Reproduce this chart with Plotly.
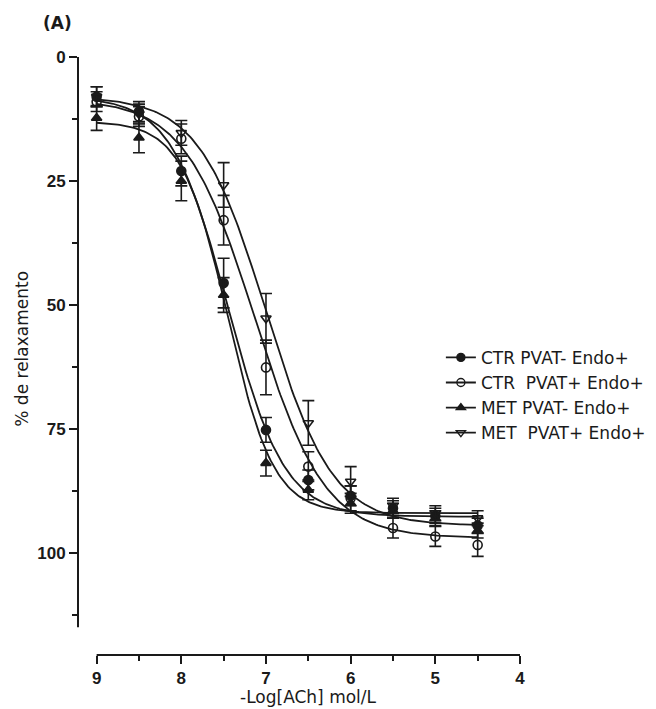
import numpy as np
import plotly.graph_objects as go

# ---- data ----
log_ach = [9, 8.5, 8, 7.5, 7, 6.5, 6, 5.5, 5, 4.5]

series_names = ["CTR PVAT- Endo+", "CTR  PVAT+ Endo+", "MET PVAT- Endo+", "MET  PVAT+ Endo+"]

ctr_pvat_minus = [8.0, 11.0, 23.0, 45.6, 75.2, 85.3, 88.5, 91.0, 92.5, 94.5]
ctr_pvat_minus_err = [2.0, 2.0, 3.0, 5.0, 2.5, 2.0, 2.0, 1.5, 1.5, 1.5]

ctr_pvat_plus = [9.0, 12.0, 16.5, 32.9, 62.6, 82.6, 89.0, 95.0, 96.7, 98.4]
ctr_pvat_plus_err = [2.0, 2.0, 3.0, 5.0, 5.5, 3.0, 2.5, 2.0, 2.0, 2.3]

met_pvat_minus = [12.3, 16.3, 25.0, 48.0, 81.9, 87.3, 90.0, 91.5, 93.0, 95.5]
met_pvat_minus_err = [2.5, 3.0, 4.0, 3.5, 2.6, 2.0, 2.0, 1.5, 1.5, 1.5]

met_pvat_plus = [8.0, 11.5, 15.3, 25.8, 52.7, 73.8, 85.6, 90.5, 92.0, 93.0]
met_pvat_plus_err = [2.0, 2.0, 2.5, 4.5, 5.0, 4.5, 3.0, 1.5, 1.5, 1.5]

# fitted sigmoid parameters (top, bottom, pEC50, hill)
fit_top = [8.0, 8.5, 13.0, 8.0]
fit_bottom = [92.7, 97.0, 92.0, 94.5]
fit_pec50 = [7.45, 7.13, 7.45, 7.0]
fit_hill = [1.3, 1.05, 1.6, 1.1]

x_ticks = [9, 8, 7, 6, 5, 4]
y_ticks = [0, 25, 50, 75, 100]

values = [ctr_pvat_minus, ctr_pvat_plus, met_pvat_minus, met_pvat_plus]
errors = [ctr_pvat_minus_err, ctr_pvat_plus_err, met_pvat_minus_err, met_pvat_plus_err]

symbols = ["circle", "circle-open", "triangle-up", "triangle-down-open"]
black = "#1a1a1a"
TXT = "DejaVu Sans, Liberation Sans, Arial, sans-serif"
NUM = "Liberation Sans, Arial, sans-serif"

fig = go.Figure()

p_grid = np.linspace(max(log_ach), min(log_ach), 200)
for i in range(4):
    curve = fit_top[i] + (fit_bottom[i] - fit_top[i]) / (1 + 10 ** ((p_grid - fit_pec50[i]) * fit_hill[i]))
    fig.add_trace(go.Scatter(x=p_grid, y=curve, mode="lines",
                             line=dict(color=black, width=1.8),
                             showlegend=False, hoverinfo="skip"))

for i in range(4):
    fig.add_trace(go.Scatter(
        x=log_ach, y=values[i], mode="markers",
        marker=dict(symbol=symbols[i], size=9, color=black,
                    line=dict(color=black, width=1.6)),
        error_y=dict(type="data", array=errors[i], color=black, thickness=1.6, width=6),
        showlegend=False))

for i in range(4):
    fig.add_trace(go.Scatter(
        x=[None], y=[None], mode="lines+markers", name=series_names[i],
        marker=dict(symbol=symbols[i], size=8, color=black,
                    line=dict(color=black, width=1.4)),
        line=dict(color=black, width=1.8)))

# the page body adds an 8px margin, so the figure is 8px smaller and margins shifted
fig.update_layout(
    width=648, height=701,
    margin=dict(l=70, r=136, t=49, b=54, autoexpand=False),
    paper_bgcolor="white", plot_bgcolor="white",
    font=dict(family=TXT, color=black),
    xaxis=dict(range=[9.22, 4], tickvals=x_ticks, ticks="outside", ticklen=8,
               tickwidth=2, tickcolor=black, showline=False, showgrid=False,
               zeroline=False, automargin=False,
               tickfont=dict(family=NUM, size=17, weight="bold"),
               minor=dict(dtick=0.5, tick0=0, ticks="outside", ticklen=5,
                          tickwidth=2, tickcolor=black, showgrid=False)),
    yaxis=dict(range=[120.6, 0], tickvals=y_ticks, ticks="outside", ticklen=8,
               tickwidth=2, tickcolor=black, showline=False, showgrid=False,
               zeroline=False, automargin=False,
               tickfont=dict(family=NUM, size=17, weight="bold"),
               minor=dict(dtick=12.5, tick0=0, ticks="outside", ticklen=5,
                          tickwidth=2, tickcolor=black, showgrid=False)),
    legend=dict(x=0.821, y=0.527, xanchor="left", yanchor="top",
                font=dict(family=TXT, size=17), tracegroupgap=0, itemwidth=30,
                bgcolor="rgba(0,0,0,0)"),
    showlegend=True,
)

# detached axis lines (GraphPad style)
fig.add_shape(type="line", xref="paper", yref="y", x0=0, x1=0, y0=0, y1=115,
              line=dict(color=black, width=2))
fig.add_shape(type="line", xref="x", yref="paper", x0=9, x1=4, y0=0, y1=0,
              line=dict(color=black, width=2))

fig.add_annotation(text="-Log[ACh] mol/L", xref="x", yref="paper", x=6.5, y=-0.071,
                   xanchor="center", yanchor="middle",
                   showarrow=False, font=dict(family=TXT, size=17))
fig.add_annotation(text="% de relaxamento", xref="paper", yref="paper", x=-0.127, y=0.512,
                   xanchor="center", yanchor="middle",
                   textangle=-90, showarrow=False, font=dict(family=TXT, size=17))
fig.add_annotation(text="(A)", xref="paper", yref="paper", x=-0.0475, y=1.057,
                   xanchor="center", yanchor="middle",
                   showarrow=False, font=dict(family=TXT, size=17, weight="bold"))

fig.write_html("out.html")
